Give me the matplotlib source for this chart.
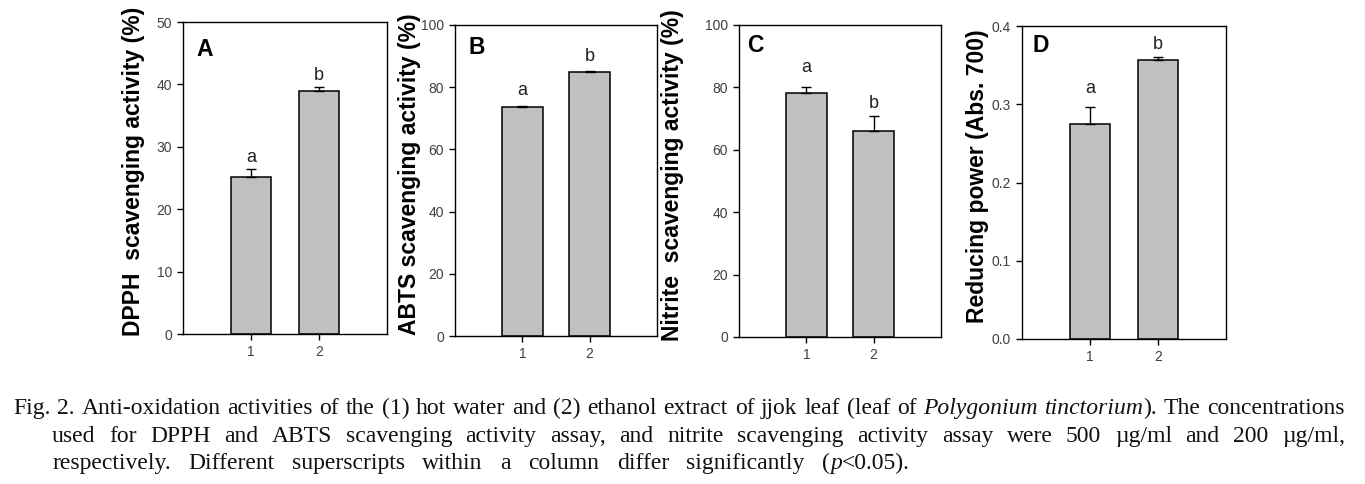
import matplotlib
matplotlib.use("Agg")
import matplotlib.pyplot as plt

# ---------------- data ----------------
groups = ["1", "2"]
x_pos = [1, 2]

dpph = [25.2, 39.0]
dpph_err = [1.2, 0.6]
abts = [73.5, 84.9]
abts_err = [0.3, 0.2]
nitrite = [78.3, 66.1]
nitrite_err = [1.7, 4.8]
reducing = [0.275, 0.357]
reducing_err = [0.021, 0.003]

sig_letters = [["a", "b"], ["a", "b"], ["a", "b"], ["a", "b"]]
panel_letters = ["A", "B", "C", "D"]
ylabels = ["DPPH  scavenging activity (%)", "ABTS scavenging activity (%)",
           "Nitrite  scavenging activity (%)", "Reducing power (Abs. 700)"]
yticks_list = [[0, 10, 20, 30, 40, 50], [0, 20, 40, 60, 80, 100],
               [0, 20, 40, 60, 80, 100], [0.0, 0.1, 0.2, 0.3, 0.4]]
ylims = [(0, 50), (0, 100), (0, 100), (0, 0.4)]
tick_fmt = ["{:.0f}", "{:.0f}", "{:.0f}", "{:.1f}"]

caption_lines = [
    "Fig. 2. Anti-oxidation activities of the (1) hot water and (2) ethanol extract of jjok leaf "
    "(leaf of _Polygonium_ _tinctorium_). The concentrations",
    "used for DPPH and ABTS scavenging activity assay, and nitrite scavenging activity assay "
    "were 500 \u00b5g/ml and 200 \u00b5g/ml,",
    "respectively. Different superscripts within a column differ significantly (_p_<0.05).",
]

# ---------------- layout (pixels) ----------------
W, H = 1365, 484
axes_px = [(183, 22, 387, 334), (455, 25, 657, 336),
           (739, 25, 941, 337), (1022, 26, 1226, 339)]
label_x = [-0.245, -0.223, -0.327, -0.22]
letter_pos = [(196, 50), (468, 47), (747, 45), (1033, 45)]
sig_offsets = [[7, 7], [11, 10], [15, 8], [14, 8]]
caption_geom = [(13, 1345, 414), (52, 1345, 442), (52, 910, 469)]

plt.rcParams["font.family"] = ["Liberation Sans", "DejaVu Sans"]
fig = plt.figure(figsize=(W / 100, H / 100), dpi=100)

values = [dpph, abts, nitrite, reducing]
errors = [dpph_err, abts_err, nitrite_err, reducing_err]

for i in range(4):
    l, t, r, b = axes_px[i]
    ax = fig.add_axes([l / W, 1 - b / H, (r - l) / W, (b - t) / H])
    vals, errs = values[i], errors[i]
    ax.bar(x_pos, vals, width=0.6, color="#c0c0c0", edgecolor="black",
           linewidth=1.1, zorder=2)
    ax.errorbar(x_pos, vals, yerr=[[0] * len(errs), errs], fmt="none",
                ecolor="black", elinewidth=1.0, capsize=3.5, capthick=1.0, zorder=3)
    for j in range(len(vals)):
        ax.annotate(sig_letters[i][j], xy=(x_pos[j], vals[j] + errs[j]),
                    xytext=(0, sig_offsets[i][j] * 0.72), textcoords="offset points",
                    ha="center", va="baseline", fontsize=13, color="#222222")
    ax.set_xlim(0, 3)
    ax.set_ylim(*ylims[i])
    ax.set_xticks(x_pos)
    ax.set_xticklabels(groups)
    ax.set_yticks(yticks_list[i])
    ax.set_yticklabels([tick_fmt[i].format(v) for v in yticks_list[i]])
    ax.tick_params(direction="out", length=4, width=1, pad=4,
                   labelsize=10, labelcolor="#404040", top=False, right=False)
    for s in ax.spines.values():
        s.set_linewidth(1.0)
        s.set_color("black")
    ax.set_ylabel(ylabels[i], fontsize=16.5, fontweight="bold", va="center")
    ax.yaxis.set_label_coords(label_x[i], 0.52)
    fig.text(letter_pos[i][0] / W, 1 - letter_pos[i][1] / H, panel_letters[i],
             fontsize=16.5, fontweight="bold", ha="left", va="center")

# ---------------- caption (justified) ----------------
renderer = fig.canvas.get_renderer()
cap_size = 17
for line, (x0, x1, yb) in zip(caption_lines, caption_geom):
    words = line.split(" ")
    word_items = []
    for w in words:
        parts = w.split("_")
        segs = []
        for k, p in enumerate(parts):
            if p == "":
                continue
            style = "italic" if k % 2 == 1 else "normal"
            txt = fig.text(0, 0, p, fontsize=cap_size, fontstyle=style,
                           family=["Liberation Serif", "DejaVu Serif"],
                           ha="left", va="baseline", color="#111111")
            wpx = txt.get_window_extent(renderer).width
            segs.append((txt, wpx))
        word_items.append(segs)
    widths = [sum(s[1] for s in segs) for segs in word_items]
    total = sum(widths)
    gap = (x1 - x0 - total) / (len(word_items) - 1)
    x = x0
    for segs, wsum in zip(word_items, widths):
        xx = x
        for txt, wpx in segs:
            txt.set_position((xx / W, 1 - yb / H))
            xx += wpx
        x += wsum + gap

fig.savefig("out.png", dpi=100)
